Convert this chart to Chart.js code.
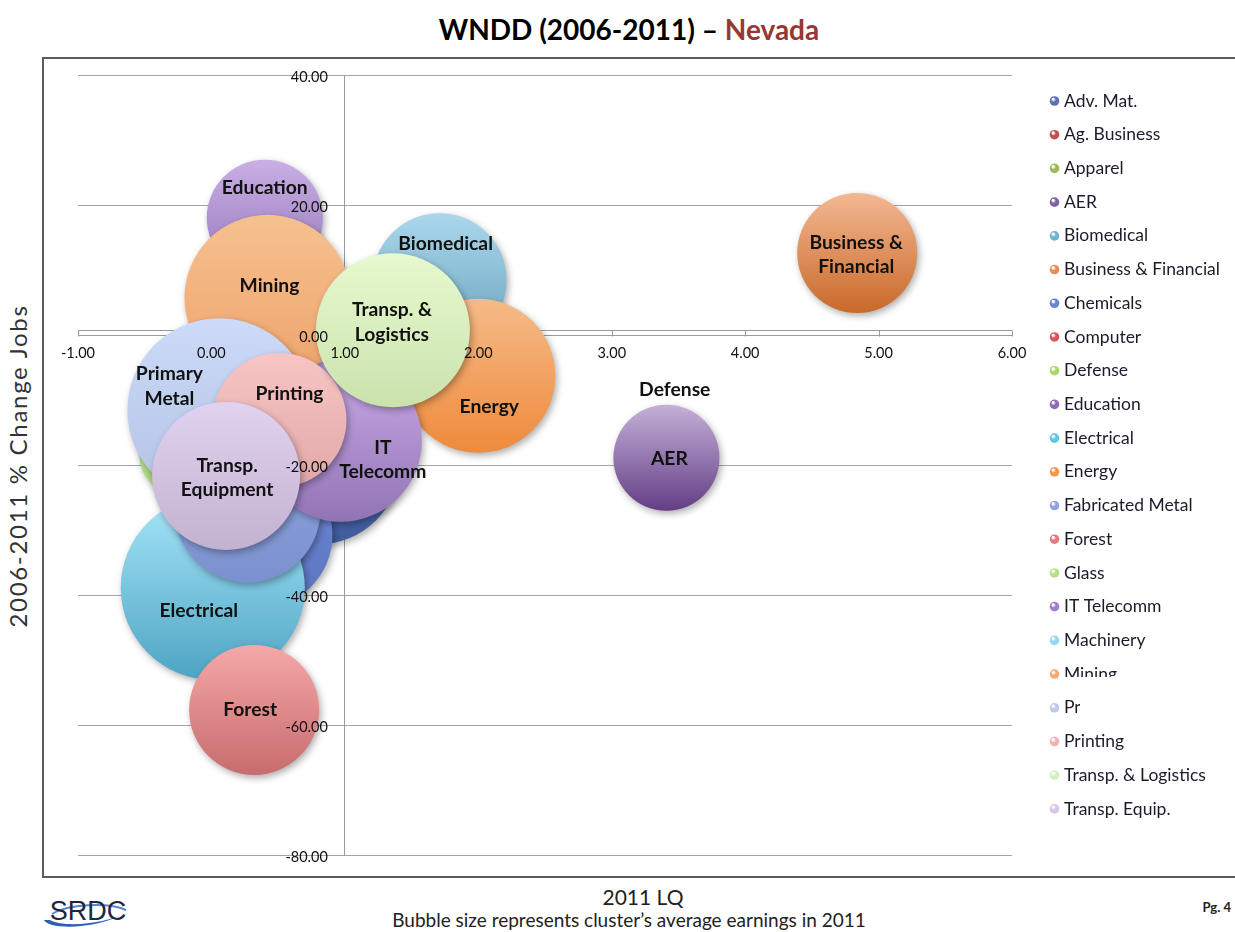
<!DOCTYPE html>
<html>
<head>
<meta charset="utf-8">
<script src="https://cdn.jsdelivr.net/npm/chart.js@4.4.1/dist/chart.umd.min.js"></script>
<style>
  body { margin: 0; background: #fff; width: 1235px; height: 932px; overflow: hidden; position: relative; font-family: Lato, "Open Sans", sans-serif; }
  #title { position: absolute; left: 0; width: 1258px; top: 12px; text-align: center; font-weight: bold; font-size: 28px; color: #000; }
  #title span { color: #953735; }
  #frame { position: absolute; left: 42px; top: 57px; width: 1200px; height: 821px; box-sizing: border-box; border: 2px solid #5c5c5c; }
  #chart { position: absolute; left: 44px; top: 59px; }
  #ytitle { position: absolute; left: -182px; top: 453px; width: 400px; height: 26px; line-height: 26px; text-align: center; font-size: 24px; letter-spacing: 1.7px; color: #333; transform: rotate(-90deg); }
  #xtitle { position: absolute; left: 443px; width: 400px; top: 884px; height: 26px; line-height: 26px; text-align: center; font-size: 21px; color: #222; }
  #note { position: absolute; left: 229px; width: 800px; top: 908px; height: 24px; line-height: 24px; text-align: center; font-size: 19px; color: #222; }
  #pg { position: absolute; right: 4px; top: 899px; font-size: 13px; font-weight: bold; color: #222; }
  #logo { position: absolute; left: 38px; top: 890px; }
</style>
</head>
<body>
<div id="title">WNDD (2006-2011) – <span>Nevada</span></div>
<div id="frame"></div>
<canvas id="chart" width="1189" height="816"></canvas>
<div id="ytitle">2006-2011 % Change Jobs</div>
<div id="xtitle">2011 LQ</div>
<div id="note">Bubble size represents cluster’s average earnings in 2011</div>
<div id="pg">Pg. 4</div>
<svg id="logo" width="100" height="42" viewBox="0 0 100 42">
  <path d="M6 30 C 10 40, 60 40, 88 22 C 70 34, 25 38, 12 30 Z" fill="#2f5fb3"/>
  <path d="M14 24 C 30 14, 70 12, 88 20" stroke="#5a86cf" stroke-width="2" fill="none"/>
  <text x="50" y="30" text-anchor="middle" font-family="Liberation Sans Narrow, Liberation Sans, sans-serif" font-size="27" fill="#1d2740">SRDC</text>
</svg>

<script>
// ── Data (LQ 2011, % change in jobs 2006-2011, avg earnings $k) ──
const clusters = [
  "Adv. Mat.", "Ag. Business", "Apparel", "AER", "Biomedical", "Business & Financial",
  "Chemicals", "Computer", "Defense", "Education", "Electrical", "Energy",
  "Fabricated Metal", "Forest", "Glass", "IT Telecomm", "Machinery", "Mining",
  "Primary Metal", "Printing", "Transp. & Logistics", "Transp. Equip."
];
const lq2011 = [0.80, 0.40, 0.00, 3.41, 1.71, 4.84, 0.36, 0.50, 3.45, 0.40, 0.01, 2.00,
                0.27, 0.32, -0.24, 0.97, 0.10, 0.42, 0.06, 0.51, 1.36, 0.11];
const jobChange = [-19.5, 5.0, -10.0, -18.8, 8.5, 12.7, -30.7, -13.0, -18.8, 18.1, -38.8, -6.2,
                   -26.8, -57.6, -18.4, -16.2, -22.0, 5.8, -11.5, -13.0, 0.8, -21.6];
const avgEarnings = [71.5, 17, 17, 29.9, 47.7, 38.3, 56.6, 17, 0, 35.8, 90, 63,
                     56.6, 44.9, 17, 69.7, 17, 73.2, 90, 47.7, 63, 58.2];
const xTicks = [-1, 0, 1, 2, 3, 4, 5, 6];
const yTicks = [-80, -60, -40, -20, 0, 20, 40];

// bubble labels (empty = not labelled)
const bubbleLabels = [
  "", "", "", "AER", "Biomedical", "Business &\nFinancial",
  "", "", "Defense", "Education", "Electrical", "Energy",
  "", "Forest", "", "IT\nTelecomm", "", "Mining",
  "Primary\nMetal", "Printing", "Transp. &\nLogistics", "Transp.\nEquipment"
];

// ── Styling ──
const labelOffsets = [
  [0, 0], [0, 0], [0, 0], [3, 1], [6, -36], [-1, 2],
  [0, 0], [0, 0], [3, -68], [0, -30], [-14, 23], [11, 31],
  [0, 0], [-4, 0], [0, 0], [42, 19], [0, 0], [2, -12],
  [-50, -24], [10, -26], [-1, -8], [1, 2]
];
const gradTop = [
  "#5474b6", "#d07a78", "#b3cf85", "#c4b0d8", "#abd7ec", "#f3b892",
  "#7189d4", "#e27d80", "#b7df8a", "#c8afe4", "#a7e6f9", "#f5bb88",
  "#90a8e4", "#f5a8a9", "#c6eca2", "#cbaae8", "#9fe0f0", "#f5c190",
  "#cddaf9", "#f7c5c5", "#e7f9ce", "#e1d2f1"
];
const gradBottom = [
  "#3f5b9c", "#b35a58", "#94b660", "#633e85", "#68a2bd", "#c9692a",
  "#5a74c0", "#c55c60", "#99c967", "#9677bb", "#4ea4c4", "#ef8a3b",
  "#7b90cc", "#c86c6d", "#a6d479", "#9274b5", "#6cc2dc", "#efa36c",
  "#b3c3e4", "#e2a8a8", "#cbe2ad", "#c2b2cf"
];
const legendColors = [
  "#5b70b0", "#c0504d", "#9bbb59", "#8064a2", "#6fb3cc", "#e8895a",
  "#6b83d4", "#d9545a", "#a6d96a", "#8d6bb8", "#5bc8e0", "#f79646",
  "#8fa2e3", "#e07b7e", "#b5e08a", "#a07fc8", "#90daec", "#f6aa72",
  "#bfc8ee", "#f0b3b3", "#d5efc4", "#d8c5e8"
];
const FONT = "Lato, 'Open Sans', sans-serif";

function radiusOf(e) { return 9.7 * Math.sqrt(e); }

function bubbleFill(i) {
  return (c) => {
    const ys = c.chart.scales && c.chart.scales.y;
    if (!ys || c.type !== "data") return gradTop[i];
    const py = ys.getPixelForValue(jobChange[i]);
    const r = radiusOf(avgEarnings[i]) || 1;
    if (!Number.isFinite(py)) return gradTop[i];
    const g = c.chart.ctx.createLinearGradient(0, py - r, 0, py + r);
    g.addColorStop(0, gradTop[i]);
    g.addColorStop(1, gradBottom[i]);
    return g;
  };
}

const datasets = clusters.map((name, i) => ({
  label: name,
  data: [{ x: lq2011[i], y: jobChange[i], r: radiusOf(avgEarnings[i]) }],
  backgroundColor: bubbleFill(i),
  hoverBackgroundColor: bubbleFill(i),
  borderWidth: 0,
  order: clusters.length - i,
  clip: false
}));

// soft drop shadow under each bubble
const bubbleShadow = {
  id: "bubbleShadow",
  beforeDatasetDraw(chart) {
    const ctx = chart.ctx;
    ctx.save();
    ctx.shadowColor = "rgba(0,0,0,0.32)";
    ctx.shadowBlur = 7;
    ctx.shadowOffsetX = 2;
    ctx.shadowOffsetY = 3;
  },
  afterDatasetDraw(chart) {
    chart.ctx.restore();
  }
};

// the thin band along the x axis with its division marks
const axisBand = {
  id: "axisBand",
  beforeDatasetsDraw(chart) {
    const { ctx, scales: { x, y } } = chart;
    const y0 = Math.round(y.getPixelForValue(0)) + 0.5;
    ctx.save();
    ctx.strokeStyle = "#9a9a9a";
    ctx.lineWidth = 1;
    ctx.beginPath();
    ctx.moveTo(x.left, y0 - 6);
    ctx.lineTo(x.right, y0 - 6);
    x.ticks.forEach((t) => {
      const px = Math.round(x.getPixelForValue(t.value)) + 0.5;
      ctx.moveTo(px, y0 - 6);
      ctx.lineTo(px, y0);
    });
    ctx.stroke();
    ctx.restore();
  }
};

// y tick labels sit left of the y axis (which crosses at LQ = 1), above the bubbles
const bubbleText = {
  id: "bubbleText",
  afterDatasetsDraw(chart) {
    const { ctx, scales: { x, y } } = chart;
    ctx.save();
    const ax = x.getPixelForValue(1);
    ctx.font = `14.5px ${FONT}`;
    ctx.fillStyle = "#111";
    ctx.textAlign = "right";
    ctx.textBaseline = "middle";
    y.ticks.forEach((t) => {
      ctx.fillText(Number(t.value).toFixed(2), ax - 17, y.getPixelForValue(t.value) + 1.5);
    });

    ctx.font = `bold 19.3px ${FONT}`;
    ctx.textAlign = "center";
    bubbleLabels.forEach((txt, i) => {
      if (!txt) return;
      const el = chart.getDatasetMeta(i).data[0];
      const lines = txt.split("\n");
      const cx = el.x + labelOffsets[i][0];
      const cy = el.y + labelOffsets[i][1];
      lines.forEach((ln, k) => {
        ctx.fillText(ln, cx, cy + (k - (lines.length - 1) / 2) * 24.5);
      });
    });
    ctx.restore();
  }
};

const sideLegend = {
  id: "sideLegend",
  afterDraw(chart) {
    const ctx = chart.ctx;
    ctx.save();
    ctx.font = `17.5px ${FONT}`;
    ctx.textBaseline = "middle";
    ctx.textAlign = "left";
    clusters.forEach((name, i) => {
      const y = 42 + i * 33.71;
      const g = ctx.createRadialGradient(1009, y - 2, 1, 1010.5, y, 5);
      g.addColorStop(0, "#ffffff");
      g.addColorStop(0.35, legendColors[i]);
      g.addColorStop(1, legendColors[i]);
      ctx.fillStyle = g;
      ctx.beginPath();
      ctx.arc(1010.5, y, 4.8, 0, Math.PI * 2);
      ctx.fill();
      ctx.fillStyle = "#1b1b2a";
      ctx.fillText(name, 1020, y);
    });
    // white patch that hides part of the legend in the reference
    ctx.fillStyle = "#ffffff";
    ctx.fillRect(1018, 618, 160, 14);
    ctx.fillRect(1036, 618, 160, 52);
    ctx.restore();
  }
};

// centred axes should not eat into the plot area
function noSpace(s) {
  if (s.isHorizontal()) s.height = 0; else s.width = 0;
  s.paddingTop = 0; s.paddingBottom = 0;
}

new Chart(document.getElementById("chart"), {
  type: "bubble",
  data: { datasets },
  plugins: [bubbleShadow, axisBand, bubbleText, sideLegend],
  options: {
    responsive: false,
    animation: false,
    devicePixelRatio: 1,
    events: [],
    layout: { autoPadding: false, padding: { left: 34, top: 16.5, right: 221, bottom: 19.5 } },
    plugins: { legend: { display: false }, tooltip: { enabled: false }, title: { display: false } },
    scales: {
      x: {
        type: "linear",
        min: xTicks[0],
        max: xTicks[xTicks.length - 1],
        position: { y: 0 },
        afterBuildTicks: (s) => { s.ticks = xTicks.map((v) => ({ value: v })); },
        afterFit: noSpace,
        ticks: {
          callback: (v) => Number(v).toFixed(2),
          color: "#111",
          font: { family: FONT, size: 14.5 },
          padding: 9,
          z: 1,
          autoSkip: false,
          maxRotation: 0
        },
        grid: { display: false, drawTicks: false },
        border: { display: true, color: "#9a9a9a", width: 1 }
      },
      y: {
        type: "linear",
        min: yTicks[0],
        max: yTicks[yTicks.length - 1],
        position: { x: 1 },
        afterBuildTicks: (s) => { s.ticks = yTicks.map((v) => ({ value: v })); },
        afterFit: noSpace,
        ticks: { display: false },
        grid: { color: "#a6a6a6", lineWidth: 1, drawTicks: false },
        border: { display: true, color: "#9a9a9a", width: 1 }
      }
    }
  }
});
</script>
</body>
</html>
